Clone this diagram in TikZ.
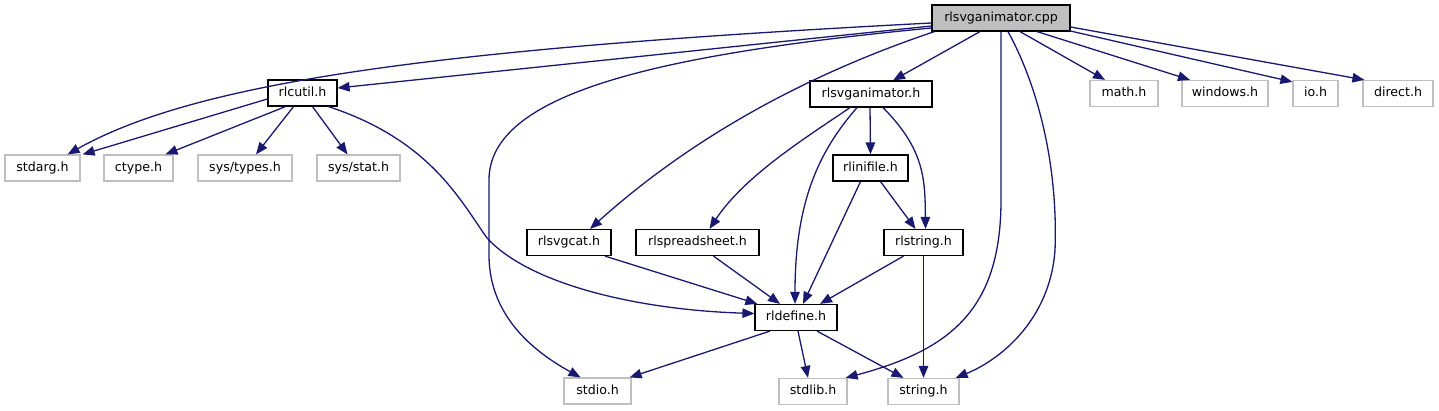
\documentclass[tikz,border=0pt]{standalone}
\usepackage{fontspec}
\setmainfont{DejaVu Sans}
\usetikzlibrary{arrows.meta}
\definecolor{edgeblue}{HTML}{191970}
\definecolor{sysgray}{HTML}{BFBFBF}
\begin{document}
\begin{tikzpicture}[x=1pt,y=-1pt,
  box/.style={draw, line width=1.2pt, minimum height=26pt, inner sep=0pt,
    font=\fontsize{12.6}{14}\selectfont, text height=9.4pt, text depth=2.6pt},
  proj/.style={box, draw=black, fill=white},
  sys/.style={box, draw=sysgray, fill=white},
  rootbox/.style={box, draw=black, fill=sysgray},
  dep/.style={draw=edgeblue, line width=1.3pt, -{Triangle[length=12pt,width=9.5pt]}}
]
\useasboundingbox (0,0) rectangle (1439,411);

% nodes
\node[rootbox, minimum width=138pt] (root) at (1001,18) {rlsvganimator.cpp};
\node[proj, minimum width=69pt] (rlcutil) at (302.5,93) {rlcutil.h};
\node[proj, minimum width=122pt] (anim) at (871,94) {rlsvganimator.h};
\node[sys, minimum width=68pt] (math) at (1124,93.5) {math.h};
\node[sys, minimum width=86pt] (windows) at (1225,93.5) {windows.h};
\node[sys, minimum width=45pt] (io) at (1315.5,93.5) {io.h};
\node[sys, minimum width=70pt] (direct) at (1398,93.5) {direct.h};
\node[sys, minimum width=75pt] (stdarg) at (42.5,168) {stdarg.h};
\node[sys, minimum width=69pt] (ctype) at (138.5,168) {ctype.h};
\node[sys, minimum width=94pt] (systypes) at (245,168) {sys/types.h};
\node[sys, minimum width=83pt] (sysstat) at (358.5,168) {sys/stat.h};
\node[proj, minimum width=75pt] (inifile) at (870.5,168) {rlinifile.h};
\node[proj, minimum width=84pt] (svgcat) at (569,242.5) {rlsvgcat.h};
\node[proj, minimum width=123pt] (spread) at (697.5,242.5) {rlspreadsheet.h};
\node[proj, minimum width=79pt] (rlstring) at (923.5,242.5) {rlstring.h};
\node[proj, minimum width=82pt] (rldefine) at (796,317.5) {rldefine.h};
\node[sys, minimum width=67pt] (stdio) at (597.5,391) {stdio.h};
\node[sys, minimum width=68pt] (stdlib) at (813,391.5) {stdlib.h};
\node[sys, minimum width=71pt] (string) at (923.5,391.5) {string.h};

% edges from root
\path[dep] ([yshift=-5pt]root.west) .. controls (450,48) and (200,80) .. ([xshift=-13pt]stdarg.north east);
\path[dep] ([yshift=-8pt]root.west) -- ([yshift=5pt]rlcutil.east);
\path[dep] ([yshift=-10pt]root.west) .. controls (650,55) and (489,95) .. (489,180) -- (489,255)
   .. controls (489,320) and (540,355) .. ([xshift=-17pt]stdio.north);
\path[dep] ([xshift=3pt]root.south west) .. controls (820,70) and (700,130) .. ([xshift=21pt]svgcat.north);
\path[dep] ([xshift=-21pt]root.south) -- ([xshift=22pt]anim.north);
\path[dep] (root.south) -- (1001,200) .. controls (1001,310) and (950,350) .. ([xshift=-2pt]stdlib.north east);
\path[dep] ([xshift=7pt]root.south) .. controls (1040,90) and (1058,170) .. (1055,250)
   .. controls (1050,320) and (1000,360) .. ([xshift=-4pt]string.north east);
\path[dep] ([xshift=19pt]root.south) -- ([xshift=-19pt]math.north);
\path[dep] ([xshift=36pt]root.south) -- ([xshift=-35pt]windows.north);
\path[dep] ([xshift=-2pt,yshift=1pt]root.south east) -- ([yshift=-2pt]io.north west);
\path[dep] ([yshift=-9pt]root.east) -- ([xshift=2pt]direct.north west);

% edges from rlcutil.h
\path[dep] ([yshift=-6pt]rlcutil.west) -- ([xshift=2pt]stdarg.north east);
\path[dep] ([xshift=-17pt]rlcutil.south) -- ([xshift=27pt]ctype.north);
\path[dep] ([xshift=-9pt]rlcutil.south) -- ([xshift=11pt]systypes.north);
\path[dep] ([xshift=10pt]rlcutil.south) -- ([xshift=-11pt]sysstat.north);
\path[dep] ([xshift=26pt]rlcutil.south) .. controls (430,140) and (460,200) .. (487,238)
   .. controls (530,285) and (640,310) .. ([yshift=4pt]rldefine.west);

% edges from rlsvganimator.h
\path[dep] ([xshift=-1pt]anim.south) -- (inifile.north);
\path[dep] ([xshift=-21pt]anim.south) .. controls (810,135) and (745,175) .. ([xshift=12pt]spread.north);
\path[dep] ([xshift=-14pt]anim.south) .. controls (820,150) and (795,200) .. ([xshift=-1pt]rldefine.north);
\path[dep] ([xshift=12pt]anim.south) .. controls (925,150) and (925,180) .. ([xshift=2pt]rlstring.north);

% edges from rlinifile.h
\path[dep] ([xshift=-10pt]inifile.south) -- ([xshift=7pt]rldefine.north);
\path[dep] ([xshift=10pt]inifile.south) -- ([xshift=-8pt]rlstring.north);

% edges into rldefine.h
\path[dep] ([xshift=36pt]svgcat.south) -- ([xshift=3pt]rldefine.north west);
\path[dep] ([xshift=16pt]spread.south) -- ([xshift=-16pt]rldefine.north);
\path[dep] ([xshift=-20pt]rlstring.south) -- ([xshift=24pt]rldefine.north);
\path[dep] (rlstring.south) -- (string.north);

% edges from rldefine.h
\path[dep] ([xshift=-26pt]rldefine.south) -- ([xshift=-2pt]stdio.north east);
\path[dep] ([xshift=2pt]rldefine.south) -- ([xshift=-5pt]stdlib.north);
\path[dep] ([xshift=21pt]rldefine.south) -- ([xshift=-20pt]string.north);
\end{tikzpicture}
\end{document}
